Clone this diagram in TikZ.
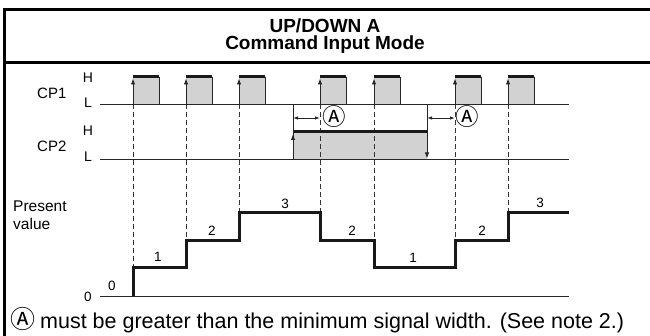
\documentclass[tikz,border=0pt]{standalone}
\usepackage{fontspec}
\setmainfont{Liberation Sans}
\newfontfamily\symfont{Noto Sans CJK JP}
\usetikzlibrary{arrows.meta}
\begin{document}
\begin{tikzpicture}[x=1pt,y=-1pt,
  thinl/.style={line width=0.9pt,black!85},
  thickl/.style={line width=3pt,black!90,line cap=butt},
  framel/.style={line width=3pt,black},
  pulsefill/.style={fill=gray!35},
  dashv/.style={line width=0.8pt,black!80,dash pattern=on 5pt off 3pt},
  uptip/.style={-{Latex[length=6pt,width=4.5pt]}},
  dbl/.style={{Latex[length=5pt,width=3.5pt]}-{Latex[length=5pt,width=3.5pt]}},
  lbl/.style={inner sep=0pt,font=\fontsize{14}{16}\selectfont},
  num/.style={inner sep=0pt,font=\fontsize{13.5}{16}\selectfont},
  circA/.style={inner sep=0pt,font=\symfont\fontsize{23.5}{26}\selectfont}
]
\useasboundingbox (0,0) rectangle (650,336);
% frame
\draw[framel] (4.5,9.5) -- (650,9.5);
\draw[framel] (4.5,63) -- (650,63);
\draw[framel] (4.5,8) -- (4.5,336);
% title
\node[inner sep=0pt,font=\bfseries\fontsize{19}{22}\selectfont] (t1) at (325,26) {UP/DOWN A};
\node[inner sep=0pt,font=\bfseries\fontsize{19}{22}\selectfont] (t2) at (325,45) {Command Input Mode};
% signal labels
\node[lbl,anchor=west,font=\fontsize{15}{17}\selectfont] (cp1) at (37,93) {CP1};
\node[lbl,anchor=west,font=\fontsize{15}{17}\selectfont] (cp2) at (37,146) {CP2};
\node[lbl] (h1) at (88,78) {H};
\node[lbl] (l1) at (88,103) {L};
\node[lbl] (h2) at (88,131) {H};
\node[lbl] (l2) at (88,157) {L};
\node[lbl,anchor=north west,align=left,font=\fontsize{15.5}{17.5}\selectfont] (pv) at (13,201) {Present\\value};
\node[num] (z) at (88,297) {0};
% CP1 pulses
\foreach \x in {133,186,239,320,374,455,508}{
  \fill[pulsefill] (\x,77) rectangle (\x+26,104);
  \draw[thinl] (\x+26,77) -- (\x+26,104);
  \draw[thinl,uptip] (\x,104) -- (\x,78.5);
  \draw[thickl] (\x,77) -- (\x+26,77);
}
% CP2 pulse
\fill[pulsefill] (293,132) rectangle (427,159);
% dashed verticals
\foreach \x/\yy in {133/268,186/241,239/213,320/213,374/241,455/241,508/213}{
  \draw[dashv] (\x,104) -- (\x,\yy);
}
\draw[thinl] (100,104) -- (569,104);
\draw[thinl] (100,159) -- (569,159);
\draw[thickl] (293,132) -- (427,132);
\draw[thinl] (293,104) -- (293,159);
\draw[thinl,uptip] (293,159) -- (293,134);
\draw[thinl,uptip] (427,104) -- (427,158.5);
% A measurements
\coordinate (a1s) at (293,118);
\coordinate (a1e) at (320,118);
\coordinate (a2s) at (427,118);
\coordinate (a2e) at (455,118);
\draw[thinl,dbl] (a1s) -- (a1e);
\draw[thinl,dbl] (a2s) -- (a2e);
\node[circA] (A1) at (334,117) {Ⓐ};
\node[circA] (A2) at (467,117) {Ⓐ};
% present value
\draw[thinl] (100,296) -- (569,296);
\draw[line width=3pt,black!90,line join=miter] (133,296) -- (133,268) -- (186,268) -- (186,241) -- (239,241) -- (239,213) -- (320,213) -- (320,241) -- (374,241) -- (374,268) -- (455,268) -- (455,241) -- (508,241) -- (508,213) -- (569,213);
\node[num] (n0) at (112,286) {0};
\node[num] (n1) at (158,257) {1};
\node[num] (n2) at (212,231) {2};
\node[num] (n3) at (285,204) {3};
\node[num] (n4) at (352,231) {2};
\node[num] (n5) at (413,258) {1};
\node[num] (n6) at (482,231) {2};
\node[num] (n7) at (540,203) {3};
% footer
\node[inner sep=0pt,anchor=base west,font=\fontsize{21.5}{24}\selectfont] (foot) at (10,328) {{\symfont\fontsize{25}{27}\selectfont Ⓐ}\hspace{-1pt} must be greater than the minimum signal width. (See note 2.)};
\end{tikzpicture}
\end{document}
